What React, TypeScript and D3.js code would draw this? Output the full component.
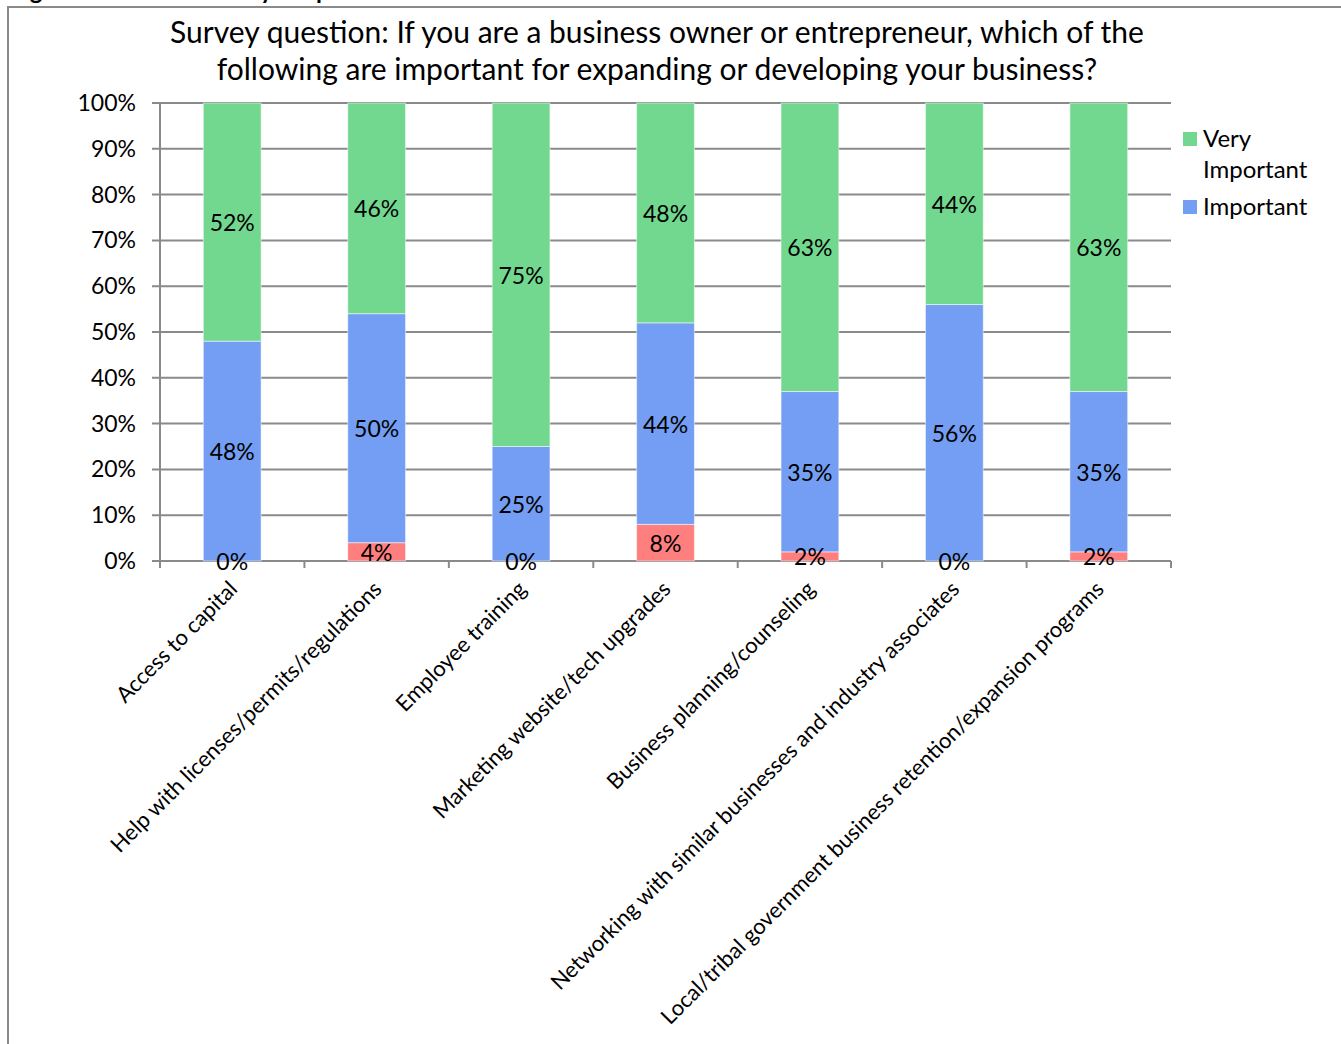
import React from "react";
import * as d3 from "d3";

const categories = [
  "Access to capital",
  "Help with licenses/permits/regulations",
  "Employee training",
  "Marketing website/tech upgrades",
  "Business planning/counseling",
  "Networking with similar businesses and industry associates",
  "Local/tribal government business retention/expansion programs",
];
const notImportant = [0, 4, 0, 8, 2, 0, 2];
const important = [48, 50, 25, 44, 35, 56, 35];
const veryImportant = [52, 46, 75, 48, 63, 44, 63];
const yTicks = [0, 10, 20, 30, 40, 50, 60, 70, 80, 90, 100];
const titleLines = [
  "Survey question: If you are a business owner or entrepreneur, which of the",
  "following are important for expanding or developing your business?",
];
const captionText = "Figure 11: Online Survey Responses \u2013 Business Needs";

const W = 1341;
const H = 1044;
const FONT = "Lato, 'Open Sans', sans-serif";
const COLORS = { red: "#FF7F7F", blue: "#739EF3", green: "#72D88F" };

export default function App() {
  const x = d3.scaleBand<string>().domain(categories).range([160, 1171]).paddingInner(0.6).paddingOuter(0.3);
  const y = d3.scaleLinear().domain([0, 100]).range([561, 103]);
  const step = x.step();
  const bw = x.bandwidth();

  const series = [
    { key: "red", values: notImportant, color: COLORS.red },
    { key: "blue", values: important, color: COLORS.blue },
    { key: "green", values: veryImportant, color: COLORS.green },
  ];

  const segs: { x: number; y0: number; y1: number; color: string; v: number; k: string }[] = [];
  categories.forEach((c, i) => {
    let acc = 0;
    series.forEach((s) => {
      const v = s.values[i];
      segs.push({ x: x(c)!, y0: acc, y1: acc + v, color: s.color, v, k: s.key + i });
      acc += v;
    });
  });

  const boundaries = d3.range(categories.length + 1).map((i) => 160 + i * step);

  return (
    <div style={{ position: "absolute", left: 0, top: 0 }}>
      <svg width={W} height={H} style={{ display: "block", background: "#fff" }} fontFamily={FONT}>
        <text x={10} y={-1} fontSize={24} fontWeight="bold" fill="#000">{captionText}</text>
        <rect x={8} y={7} width={W + 10} height={H + 10} fill="#fff" stroke="#8a8a8a" strokeWidth={2} />
        {titleLines.map((t, i) => (
          <text key={i} x={657} y={43 + i * 37} textAnchor="middle" fontSize={30} fill="#000">{t}</text>
        ))}
        {yTicks.map((t) => (
          <g key={t}>
            <line x1={152} x2={1171} y1={y(t)} y2={y(t)} stroke="#8a8a8a" strokeWidth={2} />
            <text x={136} y={y(t)} dy="0.35em" textAnchor="end" fontSize={23} fill="#000">{t}%</text>
          </g>
        ))}
        <line x1={160} x2={160} y1={y(100)} y2={y(0)} stroke="#8a8a8a" strokeWidth={2} />
        {boundaries.map((b, i) => (
          <line key={i} x1={b} x2={b} y1={y(0)} y2={y(0) + 7} stroke="#8a8a8a" strokeWidth={2} />
        ))}
        {segs.filter((s) => s.v > 0).map((s) => (
          <rect key={s.k} x={s.x} width={bw} y={y(s.y1)} height={y(s.y0) - y(s.y1)} fill={s.color} stroke="rgba(255,255,255,0.5)" strokeWidth={1} />
        ))}
        {segs.map((s) => (
          <text key={"t" + s.k} x={s.x + bw / 2} y={y((s.y0 + s.y1) / 2) + 1} dy="0.35em" textAnchor="middle" fontSize={23} fill="#000">{s.v}%</text>
        ))}
        {categories.map((c) => (
          <text key={c} transform={`translate(${x(c)! + bw / 2 + 1},${585}) rotate(-45)`} dy="0.35em" textAnchor="end" fontSize={22} fill="#000">{c}</text>
        ))}
        <rect x={1183} y={132} width={14} height={14} fill={COLORS.green} />
        <text x={1203} y={147} fontSize={24} fill="#000">Very</text>
        <text x={1203} y={178} fontSize={24} fill="#000">Important</text>
        <rect x={1183} y={200} width={14} height={14} fill={COLORS.blue} />
        <text x={1203} y={215} fontSize={24} fill="#000">Important</text>
      </svg>
    </div>
  );
}
